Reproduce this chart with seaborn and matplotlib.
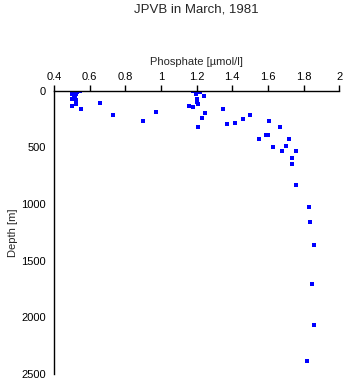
import matplotlib
matplotlib.use("Agg")
import matplotlib.pyplot as plt
import seaborn as sns
import pandas as pd

phosphate = [0.507, 0.515, 0.525, 0.535, 0.544, 0.50, 0.51, 0.52, 0.53, 0.51, 0.50, 0.515, 0.525,
             0.525, 0.525, 0.50, 0.552, 0.658, 0.73, 0.90, 0.97,
             1.178, 1.199, 1.199, 1.22, 1.24, 1.20, 1.20, 1.21, 1.157, 1.18, 1.247, 1.23, 1.205,
             1.35, 1.37, 1.415, 1.46, 1.50, 1.605, 1.67, 1.72, 1.55, 1.59, 1.60, 1.63, 1.70,
             1.68, 1.76, 1.737, 1.737, 1.757, 1.83, 1.835, 1.86, 1.848, 1.86, 1.82]
depth = [0, 0, 5, 0, 0, 29, 20, 30, 15, 47, 73, 60, 82,
         100, 118, 132, 159, 105, 214, 268, 191,
         0, 23, 30, 9, 50, 76, 100, 118, 132, 147, 197, 238, 323,
         161, 297, 289, 246, 214, 268, 323, 429, 429, 394, 388, 494, 488,
         535, 535, 591, 644, 834, 1023, 1155, 1361, 1708, 2069, 2387]

df = pd.DataFrame({"Phosphate": phosphate, "Depth": depth})

sns.set_style("white")
plt.rcParams['font.family'] = ['Liberation Sans', 'DejaVu Sans']

fig = plt.figure(figsize=(3.45, 3.84), dpi=100)
ax = fig.add_axes([0.157, 0.026, 0.826, 0.738])
sns.scatterplot(data=df, x="Phosphate", y="Depth", ax=ax, marker="s", s=5,
                color="#0000ff", linewidth=0)

ax.set_xlim(0.4, 2.0)
ax.set_ylim(2500, 0)
ax.set_xticks([0.4, 0.6, 0.8, 1.0, 1.2, 1.4, 1.6, 1.8, 2.0])
ax.set_xticklabels(["0.4", "0.6", "0.8", "1", "1.2", "1.4", "1.6", "1.8", "2"])
ax.set_yticks([0, 500, 1000, 1500, 2000, 2500])
ax.xaxis.tick_top()
ax.xaxis.set_label_position("top")
ax.tick_params(axis="both", direction="out", length=4, width=1, labelsize=8, color="black",
               pad=2, labelcolor="black")
for side in ["right", "bottom"]:
    ax.spines[side].set_visible(False)
for side in ["top", "left"]:
    ax.spines[side].set_color("black")
    ax.spines[side].set_linewidth(1)
ax.set_xlabel("Phosphate [\u00b5mol/l]", fontsize=8, labelpad=5)
ax.set_ylabel("Depth [m]", fontsize=8, labelpad=2)
fig.suptitle("JPVB in March, 1981", fontsize=9.5, x=0.57, y=0.99)

fig.savefig("out.png", dpi=100)
